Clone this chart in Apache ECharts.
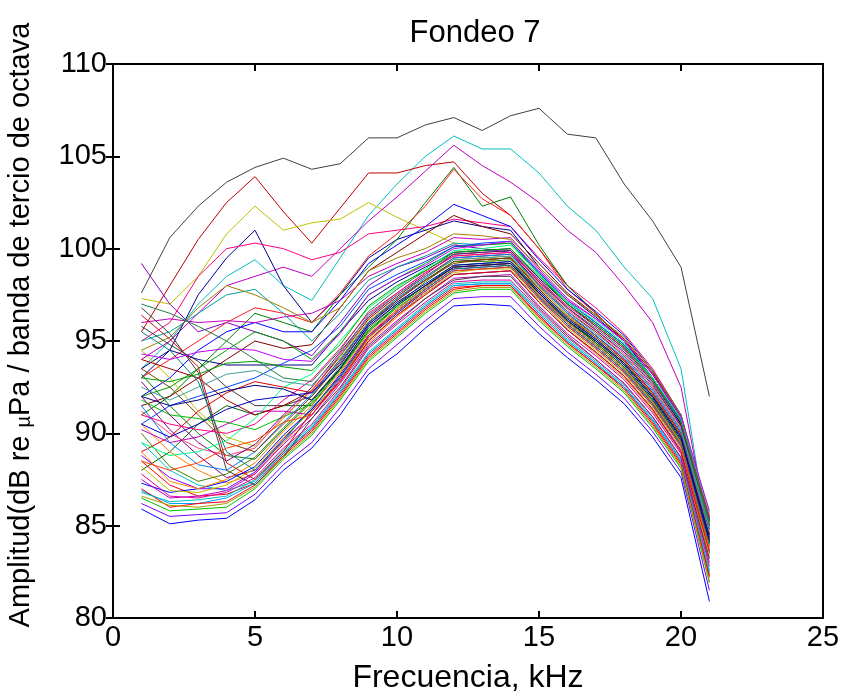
<!DOCTYPE html>
<html>
<head>
<meta charset="utf-8">
<script src="https://cdn.jsdelivr.net/npm/echarts@6/dist/echarts.min.js"></script>
<style>
html,body{margin:0;padding:0;background:#fff;}
#chart{width:843px;height:695px;}
</style>
</head>
<body>
<div id="chart"></div>
<script>
// Frequencies (kHz)
const freqs = [1,2,3,4,5,6,7,8,9,10,11,12,13,14,15,16,17,18,19,20,21];

// Core bundle of spectra (dB)
const s01 = [85.9,85.1,85.3,85.4,86.4,88.0,89.2,91.0,93.2,94.3,95.7,96.9,97.0,96.9,95.4,94.1,92.9,91.6,89.8,87.6,80.9];
const s02 = [86.2,85.5,85.6,85.7,86.7,88.3,89.5,91.4,93.5,94.8,96.1,97.3,97.4,97.4,95.8,94.4,93.2,91.9,90.1,87.9,81.5];
const s03 = [86.5,85.8,85.9,86.0,87.0,88.6,89.9,91.8,93.9,95.2,96.5,97.6,97.8,97.8,96.1,94.7,93.5,92.2,90.3,88.1,81.9];
const s04 = [87.0,86.0,86.2,86.3,87.2,88.8,90.1,92.0,94.1,95.4,96.7,97.8,98.0,98.0,96.3,94.9,93.7,92.4,90.5,88.3,82.2];
const s05 = [86.8,86.3,86.4,86.6,87.5,89.1,90.4,92.3,94.4,95.7,97.0,98.1,98.2,98.2,96.6,95.1,93.9,92.6,90.8,88.6,82.6];
const s06 = [87.5,86.5,86.6,86.9,87.8,89.4,90.8,92.7,94.8,96.1,97.3,98.4,98.5,98.6,96.9,95.4,94.2,92.9,91.1,88.9,83.0];
const s07 = [88.2,86.9,86.8,87.2,88.1,89.8,91.2,93.0,95.1,96.4,97.6,98.7,98.9,98.9,97.2,95.7,94.5,93.2,91.4,89.2,83.4];
const s08 = [89.0,87.4,87.0,87.5,88.4,90.1,91.5,93.3,95.4,96.7,97.9,99.0,99.1,99.2,97.5,96.0,94.8,93.5,91.7,89.5,83.8];
const s09 = [90.0,88.2,87.4,87.8,88.7,90.3,91.8,93.6,95.7,97.0,98.2,99.3,99.3,99.4,97.7,96.2,95.0,93.8,92.0,89.8,84.3];
const s10 = [91.5,89.5,88.3,88.0,89.0,90.6,92.1,94.0,96.0,97.3,98.4,99.5,99.6,99.7,98.0,96.5,95.3,94.1,92.3,90.1,84.8];
const s11 = [92.8,91.0,89.5,88.5,89.4,91.0,92.5,94.4,96.3,97.5,98.6,99.7,99.8,99.9,98.2,96.8,95.6,94.4,92.6,90.4,85.3];
const s12 = [96.4,95.1,93.6,88.4,87.5,89.0,91.2,92.8,95.0,96.4,97.5,98.6,98.7,98.8,97.1,95.6,94.4,93.1,91.3,89.0,83.6];
const s13 = [96.8,95.4,93.3,88.0,87.2,88.7,90.8,92.5,94.7,96.0,97.3,98.3,98.5,98.5,96.8,95.3,94.0,92.7,90.9,88.7,83.2];
const s14 = [95.5,94.5,92.8,89.0,88.0,89.6,91.4,93.0,95.2,96.6,97.8,98.9,99.0,99.1,97.4,95.9,94.7,93.4,91.6,89.4,84.0];
const s15 = [93.5,92.5,91.0,89.5,89.0,90.5,92.0,93.8,95.9,97.2,98.3,99.2,99.4,99.5,97.8,96.3,95.2,93.9,92.1,89.9,84.5];
const s16 = [91.0,90.5,90.2,90.0,90.5,91.8,92.9,94.6,96.5,97.6,98.7,99.6,99.7,99.8,98.3,96.9,95.8,94.6,92.8,90.6,85.5];
const s17 = [89.5,88.8,89.0,89.6,90.8,92.5,93.2,95.0,96.8,97.9,98.9,99.9,100.0,100.2,98.6,97.1,96.1,94.9,93.0,90.8,85.7];
const s18 = [92.0,91.5,91.8,92.3,92.6,92.4,91.8,93.5,95.8,97.0,98.0,99.0,99.1,99.2,97.6,96.1,95.0,93.7,91.9,89.7,84.2];
const s19 = [93.0,92.8,93.2,93.8,93.9,93.6,93.4,94.8,96.9,98.0,98.8,99.8,99.9,100.0,98.5,97.0,95.9,94.7,92.9,90.6,85.2];
const s20 = [94.3,94.0,94.4,94.6,94.5,94.0,93.9,95.4,97.5,98.4,99.1,100.0,100.2,100.4,98.8,97.2,96.2,95.0,93.2,90.9,85.8];
const s21 = [88.5,88.0,88.4,89.2,89.6,90.6,91.0,92.8,95.2,96.6,97.7,98.8,98.9,99.0,97.3,95.8,94.6,93.3,91.5,89.3,83.7];
const s22 = [90.5,89.8,90.5,91.3,91.8,92.0,92.2,93.7,95.9,97.1,98.1,99.1,99.2,99.3,97.7,96.2,95.1,93.8,92.0,89.8,84.4];
const s23 = [92.5,91.8,92.5,93.2,93.4,92.8,92.6,94.2,96.4,97.5,98.5,99.4,99.5,99.6,98.0,96.6,95.4,94.2,92.4,90.2,84.9];
const s24 = [87.8,86.6,86.5,86.8,87.6,89.2,90.5,92.4,94.6,95.9,97.1,98.2,98.3,98.3,96.7,95.2,94.0,92.7,90.9,88.7,82.8];
const s25 = [86.6,86.1,86.0,86.2,87.1,88.7,90.0,91.9,94.0,95.3,96.6,97.7,97.9,97.9,96.2,94.8,93.6,92.3,90.4,88.2,82.0];
const a01 = [90.5,89.0,88.0,87.3,87.8,89.5,91.0,92.8,94.9,96.3,97.5,98.6,98.7,98.8,97.1,95.6,94.3,93.0,91.2,89.0,83.3];
const a02 = [89.5,88.0,87.2,86.9,87.4,89.0,90.3,92.2,94.3,95.6,96.9,98.0,98.1,98.1,96.5,95.0,93.8,92.5,90.7,88.5,82.4];
const a03 = [92.0,90.2,88.8,87.6,88.0,89.7,91.3,93.2,95.3,96.6,97.8,98.9,99.0,99.1,97.4,95.9,94.7,93.4,91.6,89.4,83.9];
const a04 = [93.2,91.5,90.0,88.8,88.6,90.2,91.7,93.5,95.6,96.9,98.0,99.1,99.2,99.3,97.6,96.1,94.9,93.6,91.8,89.6,84.2];
const a05 = [94.5,93.0,91.2,89.8,89.3,90.8,92.4,94.1,96.1,97.3,98.4,99.4,99.5,99.6,97.9,96.4,95.2,93.9,92.1,89.9,84.6];
const a06 = [88.5,87.2,86.6,86.7,87.3,88.9,90.2,92.1,94.2,95.5,96.8,97.9,98.0,98.0,96.4,94.9,93.7,92.5,90.6,88.4,82.3];
const a07 = [87.3,86.8,87.0,87.4,88.2,89.9,91.3,93.1,95.2,96.5,97.7,98.8,98.9,99.0,97.3,95.8,94.6,93.3,91.5,89.3,83.6];
const a08 = [91.8,91.0,90.8,90.6,90.2,90.9,91.6,93.4,95.5,96.8,97.9,99.0,99.1,99.2,97.5,96.0,94.8,93.5,91.7,89.5,84.0];
const a09 = [95.8,94.8,93.9,92.5,91.5,91.5,92.0,93.9,96.0,97.2,98.3,99.3,99.4,99.5,97.8,96.3,95.1,93.8,92.0,89.8,84.3];
const a10 = [90.2,89.5,89.8,90.5,91.2,91.2,91.0,93.0,95.3,96.7,97.9,99.0,99.1,99.2,97.5,96.0,94.8,93.5,91.7,89.5,84.1];
const a11 = [86.9,86.2,86.2,86.5,87.3,88.9,90.3,92.2,94.3,95.6,96.9,98.0,98.1,98.1,96.5,95.0,93.8,92.5,90.7,88.5,82.5];
const a12 = [94.0,93.5,93.0,91.8,91.0,91.5,92.3,94.2,96.2,97.4,98.5,99.5,99.6,99.7,98.1,96.6,95.5,94.2,92.4,90.2,85.0];
const a13 = [88.8,87.6,87.0,87.0,87.9,89.6,91.0,92.9,95.0,96.4,97.6,98.6,98.7,98.8,97.1,95.6,94.4,93.1,91.3,89.1,83.5];
const a14 = [91.2,90.0,89.2,88.8,89.2,90.9,92.3,94.3,96.4,97.6,98.7,99.6,99.7,99.8,98.2,96.7,95.6,94.3,92.5,90.3,85.1];
const a15 = [97.0,96.5,95.8,95.0,94.0,93.0,92.8,94.5,96.6,97.8,98.8,99.7,99.8,99.9,98.3,96.8,95.7,94.5,92.7,90.4,85.0];
// Mid-range spectra
const m01 = [93.5,94.5,94.0,93.7,93.7,93.7,93.7,95.5,97.2,98.2,99.0,99.8,99.9,100.0,98.4,97.0,95.8,94.6,92.8,90.5,85.0];
const m02 = [96.0,96.2,96.0,96.1,96.0,96.3,96.5,97.2,98.5,99.2,99.8,100.6,100.5,100.6,98.9,97.3,96.2,95.0,93.2,90.8,85.4];
const m03 = [95.0,95.5,96.5,97.5,97.8,96.5,95.0,96.5,98.3,99.0,99.6,100.3,100.2,100.3,98.7,97.2,96.0,94.8,93.0,90.7,85.2];
const m04 = [92.0,92.5,93.5,94.5,95.5,95.0,94.0,95.5,97.5,98.4,99.2,100.1,100.2,100.3,98.6,97.0,95.9,94.7,92.9,90.6,85.3];
const m05 = [94.5,95.2,96.8,98.0,97.5,96.8,96.0,96.8,98.8,99.5,100.0,100.8,100.7,100.5,99.0,97.5,96.4,95.2,93.4,91.0,85.6];
const m06 = [90.5,91.5,92.0,92.5,93.0,93.8,94.5,95.8,97.8,98.6,99.3,100.1,100.3,100.4,98.7,97.1,96.0,94.8,93.0,90.7,85.1];
const m07 = [89.0,89.8,91.2,92.2,92.8,92.5,92.2,94.0,96.0,97.3,98.3,99.3,99.4,99.5,97.9,96.4,95.3,94.0,92.2,90.0,84.6];
const m08 = [88.0,89.0,90.5,91.5,91.0,91.5,91.5,93.5,95.5,96.9,98.0,99.0,99.1,99.2,97.6,96.1,94.9,93.6,91.8,89.6,84.1];
// Upper outlying spectra
const u01 = [97.6,100.6,102.3,103.6,104.4,104.9,104.3,104.6,106.0,106.0,106.7,107.1,106.4,107.2,107.6,106.2,106.0,103.5,101.5,99.0,92.0];
const u02 = [93.5,95.0,97.0,98.5,99.4,98.0,97.2,99.5,101.8,103.5,105.0,106.1,105.4,105.4,104.1,102.3,101.0,99.0,97.3,93.5,84.0];
const u03 = [95.5,98.0,100.5,102.5,103.9,102.0,100.3,102.2,104.1,104.1,104.5,104.7,103.0,101.8,100.0,98.0,96.5,95.0,93.0,90.5,85.0];
const u04 = [97.3,97.0,98.5,100.8,102.3,101.0,101.4,101.6,102.5,101.7,101.0,100.3,99.5,99.0,97.5,96.0,95.0,93.8,92.0,89.8,84.5];
const u05 = [94.0,95.0,96.5,98.0,98.5,99.0,98.5,100.0,101.5,102.8,104.2,105.6,104.5,103.6,102.5,101.0,99.8,98.0,96.0,92.5,84.5];
const u06 = [93.0,94.5,97.5,99.5,101.0,98.0,96.0,97.5,99.5,100.5,101.0,101.5,101.2,101.0,99.0,97.5,96.3,95.0,93.0,90.5,84.8];
const u07 = [99.2,97.0,95.5,96.0,95.5,95.0,94.2,96.0,98.0,99.0,99.5,100.2,100.0,99.8,98.0,96.5,95.3,94.0,92.2,90.0,84.5];
const u08 = [95.0,96.0,98.5,100.0,100.3,100.0,99.4,99.8,100.8,101.0,101.2,101.6,101.4,101.2,99.5,98.0,96.8,95.4,93.5,91.0,85.3];
const u09 = [91.0,92.0,93.5,95.0,96.5,96.0,95.5,97.5,99.0,100.5,102.5,104.4,102.3,102.8,100.2,98.0,96.5,95.0,93.2,90.8,85.0];
const u10 = [93.0,94.0,95.0,96.0,96.8,96.5,96.0,97.6,99.6,100.8,102.3,104.3,102.7,101.8,100.0,97.8,96.5,95.0,93.2,90.8,85.2];
const u11 = [92.0,93.0,94.5,95.5,96.0,95.5,95.5,97.2,99.2,100.2,101.2,102.4,101.8,101.2,99.4,97.8,96.6,95.3,93.4,91.0,85.4];
const u12 = [91.5,92.0,93.0,94.0,95.0,94.6,94.8,96.8,98.8,99.8,100.8,101.8,101.2,100.8,99.2,97.6,96.4,95.1,93.3,90.9,85.2];

const spectra = [
  {data:u01,color:'#404040'},{data:u02,color:'#00bfbf'},{data:u03,color:'#c00000'},{data:u04,color:'#bfbf00'},
  {data:u05,color:'#bf00bf'},{data:u06,color:'#000090'},{data:u07,color:'#8000c0'},{data:u08,color:'#ff0080'},
  {data:u09,color:'#008000'},{data:u10,color:'#ff2020'},{data:u11,color:'#0000ff'},{data:u12,color:'#800000'},
  {data:m01,color:'#000080'},{data:m02,color:'#c000c0'},{data:m03,color:'#00a0a0'},{data:m04,color:'#00a000'},
  {data:m05,color:'#a08000'},{data:m06,color:'#0040ff'},{data:m07,color:'#e00000'},{data:m08,color:'#006000'},
  {data:a01,color:'#ff8000'},{data:a02,color:'#00c0c0'},{data:a03,color:'#800080'},{data:a04,color:'#008000'},
  {data:a05,color:'#c0c000'},{data:a06,color:'#ff0000'},{data:a07,color:'#0000ff'},{data:a08,color:'#00c000'},
  {data:a09,color:'#404040'},{data:a10,color:'#c000c0'},{data:a11,color:'#00a0ff'},{data:a12,color:'#a00000'},
  {data:a13,color:'#8000ff'},{data:a14,color:'#ff4080'},{data:a15,color:'#208040'},
  {data:s01,color:'#0000ff'},{data:s02,color:'#8000ff'},{data:s03,color:'#00c000'},{data:s04,color:'#ff0000'},
  {data:s05,color:'#00c0c0'},{data:s06,color:'#c000c0'},{data:s07,color:'#c0c000'},{data:s08,color:'#ff8000'},
  {data:s09,color:'#408000'},{data:s10,color:'#0080ff'},{data:s11,color:'#800080'},{data:s12,color:'#d01010'},
  {data:s13,color:'#404040'},{data:s14,color:'#008080'},{data:s15,color:'#804000'},{data:s16,color:'#ff0080'},
  {data:s17,color:'#00ff80'},{data:s18,color:'#000080'},{data:s19,color:'#00a000'},{data:s20,color:'#c000ff'},
  {data:s21,color:'#ff4000'},{data:s22,color:'#0000c0'},{data:s23,color:'#40a0a0'},{data:s24,color:'#e000a0'},
  {data:s25,color:'#a0a000'}
];

const FONT = 'Liberation Sans, Arial, Helvetica, sans-serif';
const chart = echarts.init(document.getElementById('chart'), null, {renderer:'canvas'});

const series = spectra.map((s, i) => ({
  type: 'line',
  name: 'S' + (i + 1),
  data: freqs.map((f, j) => [f, s.data[j]]),
  symbol: 'none',
  lineStyle: {width: 1, color: s.color},
  z: 2,
  animation: false
}));

chart.setOption({
  animation: false,
  backgroundColor: '#ffffff',
  title: {
    text: 'Fondeo 7',
    left: 470, top: 13, textAlign: 'center',
    textStyle: {fontFamily: FONT, fontSize: 31, fontWeight: 'normal', color: '#000'}
  },
  grid: {left: 113, right: 20, top: 64, bottom: 77, show: true, borderColor: '#000', borderWidth: 2,
         containLabel: false, outerBoundsMode: 'none'},
  xAxis: [{
    type: 'value', min: 0, max: 25, interval: 5,
    name: 'Frecuencia, kHz', nameLocation: 'middle', nameGap: 44,
    nameTextStyle: {fontFamily: FONT, fontSize: 32, color: '#000'},
    axisLine: {show: true, onZero: false, lineStyle: {color: '#000', width: 2}},
    axisTick: {show: true, inside: true, length: 7, lineStyle: {color: '#000', width: 2}},
    axisLabel: {fontFamily: FONT, fontSize: 29, color: '#000', margin: 5},
    splitLine: {show: false}
  }, {
    type: 'value', min: 0, max: 25, interval: 5, position: 'top',
    axisLine: {show: true, lineStyle: {color: '#000', width: 2}},
    axisTick: {show: true, inside: true, length: 7, lineStyle: {color: '#000', width: 2}},
    axisLabel: {show: false}, splitLine: {show: false}
  }],
  yAxis: [{
    type: 'value', min: 80, max: 110, interval: 5,
    name: 'Amplitud(dB re {mu|\u00b5}Pa / banda de tercio de octava', nameLocation: 'middle', nameGap: 78,
    nameTextStyle: {
      fontFamily: FONT, fontSize: 29, color: '#000', padding: [0, 0, 0, 32],
      rich: {mu: {fontFamily: FONT, fontSize: 20, color: '#000', padding: [8, 0, 0, 0]}}
    },
    axisLine: {show: true, onZero: false, lineStyle: {color: '#000', width: 2}},
    axisTick: {show: true, inside: true, length: 7, lineStyle: {color: '#000', width: 2}},
    axisLabel: {fontFamily: FONT, fontSize: 29, color: '#000', margin: 6},
    splitLine: {show: false}
  }, {
    type: 'value', min: 80, max: 110, interval: 5, position: 'right',
    axisLine: {show: true, lineStyle: {color: '#000', width: 2}},
    axisTick: {show: true, inside: true, length: 7, lineStyle: {color: '#000', width: 2}},
    axisLabel: {show: false}, splitLine: {show: false}
  }],
  series: series
});
</script>
</body>
</html>
